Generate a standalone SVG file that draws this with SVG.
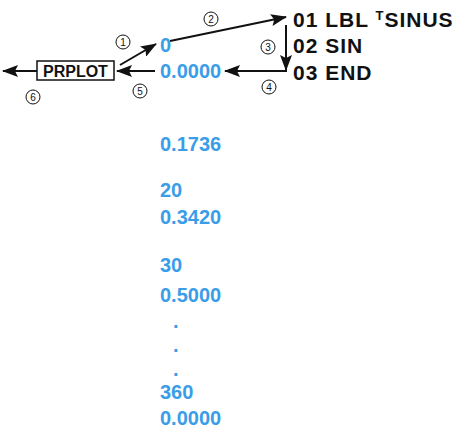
<svg xmlns="http://www.w3.org/2000/svg" width="466" height="429" viewBox="0 0 466 429">
<style>
.blue{font-family:"Liberation Sans",Arial,sans-serif;font-weight:bold;font-size:20px;fill:#3a9de8}
.prog{font-family:"Liberation Sans",Arial,sans-serif;font-weight:bold;font-size:21px;fill:#111;letter-spacing:1px}
.box{fill:#fff;stroke:#111;stroke-width:1.5}
.boxt{font-family:"Liberation Sans",Arial,sans-serif;font-weight:bold;font-size:16px;fill:#111}
.ln{stroke:#111;stroke-width:2;fill:none}
.num{fill:#fff;stroke:#111;stroke-width:1}
.numt{font-family:"Liberation Sans",Arial,sans-serif;font-size:10px;fill:#111;text-anchor:middle}
</style>
<defs>
<marker id="ah" viewBox="0 0 16 12" refX="15" refY="6" markerWidth="16" markerHeight="12" markerUnits="userSpaceOnUse" orient="auto">
<path d="M0,0 L16,6 L0,12 L3,6 Z" fill="#111"/>
</marker>
</defs>
<g id="connectors">
<line class="ln" x1="120" y1="65" x2="156" y2="44" marker-end="url(#ah)"/>
<line class="ln" x1="170" y1="41" x2="286" y2="17" marker-end="url(#ah)"/>
<line class="ln" x1="286" y1="25" x2="286" y2="70" marker-end="url(#ah)"/>
<polyline class="ln" points="287,71 225,71" marker-end="url(#ah)"/>
<line class="ln" x1="155" y1="71" x2="117" y2="71" marker-end="url(#ah)"/>
<line class="ln" x1="37" y1="71" x2="3" y2="71" marker-end="url(#ah)"/>
</g>
<g id="labels">
<circle class="num" cx="123" cy="42" r="7"/><text class="numt" x="123" y="45.5">1</text>
<circle class="num" cx="211" cy="19" r="7"/><text class="numt" x="211" y="22.5">2</text>
<circle class="num" cx="268" cy="47" r="7"/><text class="numt" x="268" y="50.5">3</text>
<circle class="num" cx="269" cy="87" r="7"/><text class="numt" x="269" y="90.5">4</text>
<circle class="num" cx="140" cy="91" r="7"/><text class="numt" x="140" y="94.5">5</text>
<circle class="num" cx="33" cy="97" r="7"/><text class="numt" x="33" y="100.5">6</text>
</g>
<g id="prplot">
<rect class="box" x="37" y="61" width="77" height="19"/>
<text class="boxt" x="43" y="77">PRPLOT</text>
</g>
<g id="program">
<text class="prog" x="293" y="27">01 LBL <tspan font-size="13" dy="-7">T</tspan><tspan dy="7">SINUS</tspan></text>
<text class="prog" x="293" y="53">02 SIN</text>
<text class="prog" x="293" y="80">03 END</text>
</g>
<g id="output">
<text class="blue" x="160" y="52">0</text>
<text class="blue" x="160" y="78">0.0000</text>
<text class="blue" x="160" y="151">0.1736</text>
<text class="blue" x="160" y="197">20</text>
<text class="blue" x="160" y="224">0.3420</text>
<text class="blue" x="160" y="272">30</text>
<text class="blue" x="160" y="302">0.5000</text>
<text class="blue" x="173" y="328">.</text>
<text class="blue" x="173" y="352">.</text>
<text class="blue" x="173" y="376">.</text>
<text class="blue" x="160" y="399">360</text>
<text class="blue" x="160" y="425">0.0000</text>
</g>
</svg>
